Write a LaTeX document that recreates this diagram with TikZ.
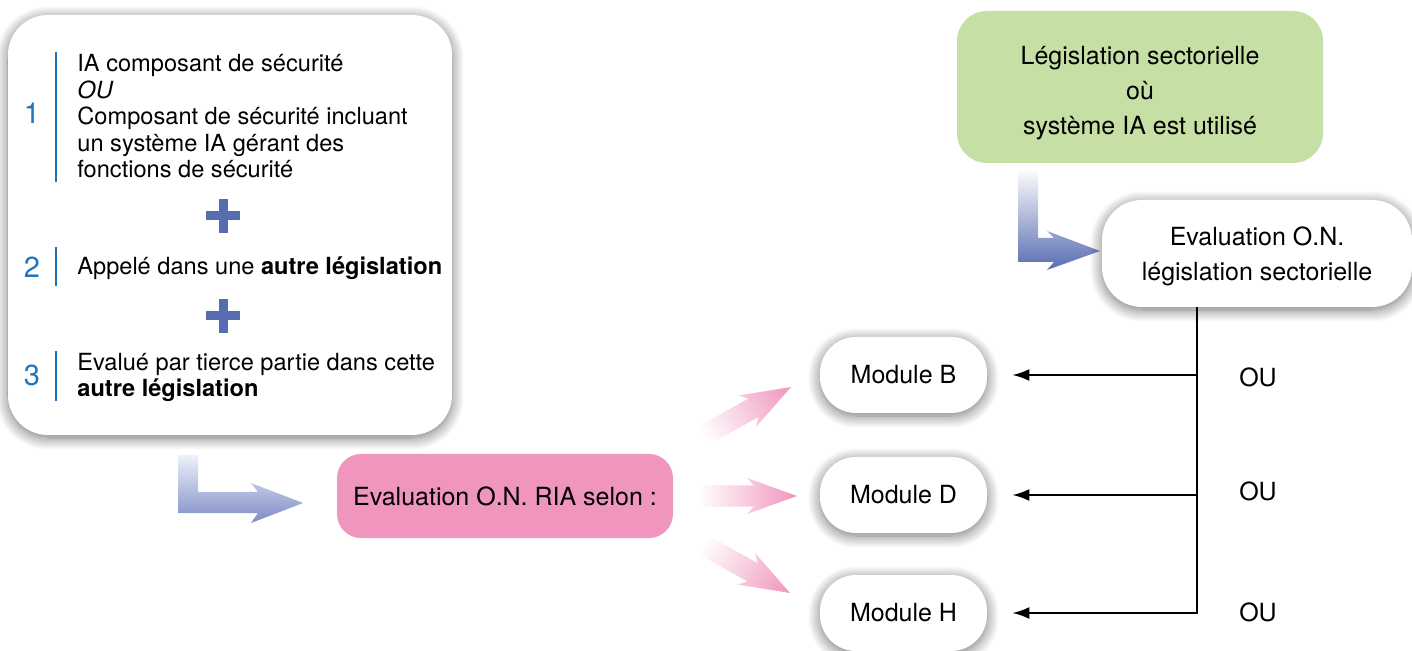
\documentclass[tikz,border=0pt]{standalone}
\usepackage{fontspec}
\setmainfont{TeX Gyre Heros}
\usetikzlibrary{shadows.blur,arrows.meta}
\definecolor{numblue}{RGB}{30,115,190}
\definecolor{plusc}{RGB}{88,108,178}
\definecolor{pinkc}{RGB}{240,149,189}
\definecolor{greenc}{RGB}{197,223,164}
\definecolor{arrowlight}{RGB}{238,241,249}
\definecolor{arrowmid}{RGB}{125,140,198}
\begin{document}
\begin{tikzpicture}[x=0.5pt,y=-0.5pt,
  shadowed/.style={blur shadow={shadow blur steps=14, shadow xshift=0pt, shadow yshift=-1.5pt, shadow blur radius=6pt, shadow opacity=55}},
  whitebox/.style={fill=white, shadowed, align=center, inner sep=0pt},
  txt/.style={font=\fontsize{12.5}{17.5}\selectfont},
  lefttxt/.style={font=\fontsize{11.8}{13.25}\selectfont, align=left, inner sep=0pt, anchor=base west},
  num/.style={font=\fontsize{14.5}{16}\selectfont, text=numblue, inner sep=0pt},
  numbar/.style={draw=numblue, line width=1pt},
  conn/.style={line width=1pt, -{Latex[length=8.5pt,width=6pt]}},
  pinkarrow/.style={left color=white, middle color=pinkc!55, right color=pinkc},
]
\useasboundingbox (0,0) rectangle (1412,651);

% left box
\node[whitebox, minimum width=222pt, minimum height=210pt, rounded corners=20pt] (L) at (230,225) {};
\node[num] (n1) at (32,113) {1};
\node[num] (n2) at (32,267) {2};
\node[num] (n3) at (32,375) {3};
\draw[numbar] (56,52) -- (56,182);
\draw[numbar] (56,247) -- (56,286);
\draw[numbar] (56,351) -- (56,401);
\node[lefttxt] (t1) at (77,178) {IA composant de sécurité\\\textit{OU}\\Composant de sécurité incluant\\un système IA gérant des\\fonctions de sécurité};
\node[lefttxt] (t2) at (77,275) {Appelé dans une \textbf{autre législation}};
\node[lefttxt] (t3) at (77,397) {Evalué par tierce partie dans cette\\\textbf{autre législation}};
\foreach \yy in {216,316}{
  \fill[plusc] (206,\yy-4.5) rectangle (240,\yy+4.5);
  \fill[plusc] (218.5,\yy-17) rectangle (227.5,\yy+17);
}

% L arrow 1
\shade[top color=arrowlight, bottom color=arrowmid]
  (178,455) -- (198,455) -- (198,492) -- (258,492) -- (251,483) -- (303,503)
  -- (251,523) -- (258,513) -- (178,513) -- cycle;

% pink box
\node[txt, fill=pinkc, rounded corners=12pt, minimum width=168pt, minimum height=42pt, inner sep=0pt] (P) at (505,496) {Evaluation O.N. RIA selon :};

% pink arrows
\begin{scope}[transform canvas={shift={(791,387)},rotate=29}]
  \shade[pinkarrow]
  (-100,-10.5) -- (-43,-10.5) -- (-50,-18) -- (0,0) -- (-50,18) -- (-43,10.5) -- (-100,10.5) -- cycle;
\end{scope}
\begin{scope}[transform canvas={shift={(797,496)}}]
  \shade[pinkarrow]
  (-100,-10.5) -- (-43,-10.5) -- (-50,-18) -- (0,0) -- (-50,18) -- (-43,10.5) -- (-100,10.5) -- cycle;
\end{scope}
\begin{scope}[transform canvas={shift={(790,593)},rotate=-29}]
  \shade[pinkarrow]
  (-100,-10.5) -- (-43,-10.5) -- (-50,-18) -- (0,0) -- (-50,18) -- (-43,10.5) -- (-100,10.5) -- cycle;
\end{scope}

% modules
\node[whitebox, txt, minimum width=83.5pt, minimum height=38pt, rounded corners=18pt] (MB) at (903.5,375) {Module B};
\node[whitebox, txt, minimum width=83.5pt, minimum height=38pt, rounded corners=18pt] (MD) at (903.5,495) {Module D};
\node[whitebox, txt, minimum width=83.5pt, minimum height=38pt, rounded corners=18pt] (MH) at (903.5,613) {Module H};

% green box
\node[fill=greenc, rounded corners=15pt, minimum width=183pt, minimum height=76pt, inner sep=0pt] (G) at (1140,87) {};
\node[txt, align=center, inner sep=0pt] (Gt) at ([yshift=-3pt]G.center) {Législation sectorielle\\où\\système IA est utilisé};

% L arrow 2
\shade[top color=white, bottom color=plusc]
  (1018,168) -- (1038,168) -- (1038,238) -- (1054,238) -- (1047,231) -- (1100,251)
  -- (1047,270) -- (1054,262) -- (1018,262) -- cycle;

% Evaluation O.N. box
\node[whitebox, minimum width=155pt, minimum height=53.5pt, rounded corners=20pt] (E) at (1257,253.5) {};
\node[txt, align=center, inner sep=0pt] (Et) at ([yshift=-1.5pt]E.center) {Evaluation O.N.\\législation sectorielle};

% connectors
\coordinate (top) at (1197,307);
\draw[conn] (top) |- ([xshift=12.5pt]MH.east);
\draw[conn] (top |- MB.east) -- ([xshift=12.5pt]MB.east);
\draw[conn] (top |- MD.east) -- ([xshift=12.5pt]MD.east);

\node[txt] (ou1) at (1258,377) {OU};
\node[txt] (ou2) at (1258,491) {OU};
\node[txt] (ou3) at (1258,612) {OU};
\end{tikzpicture}
\end{document}
